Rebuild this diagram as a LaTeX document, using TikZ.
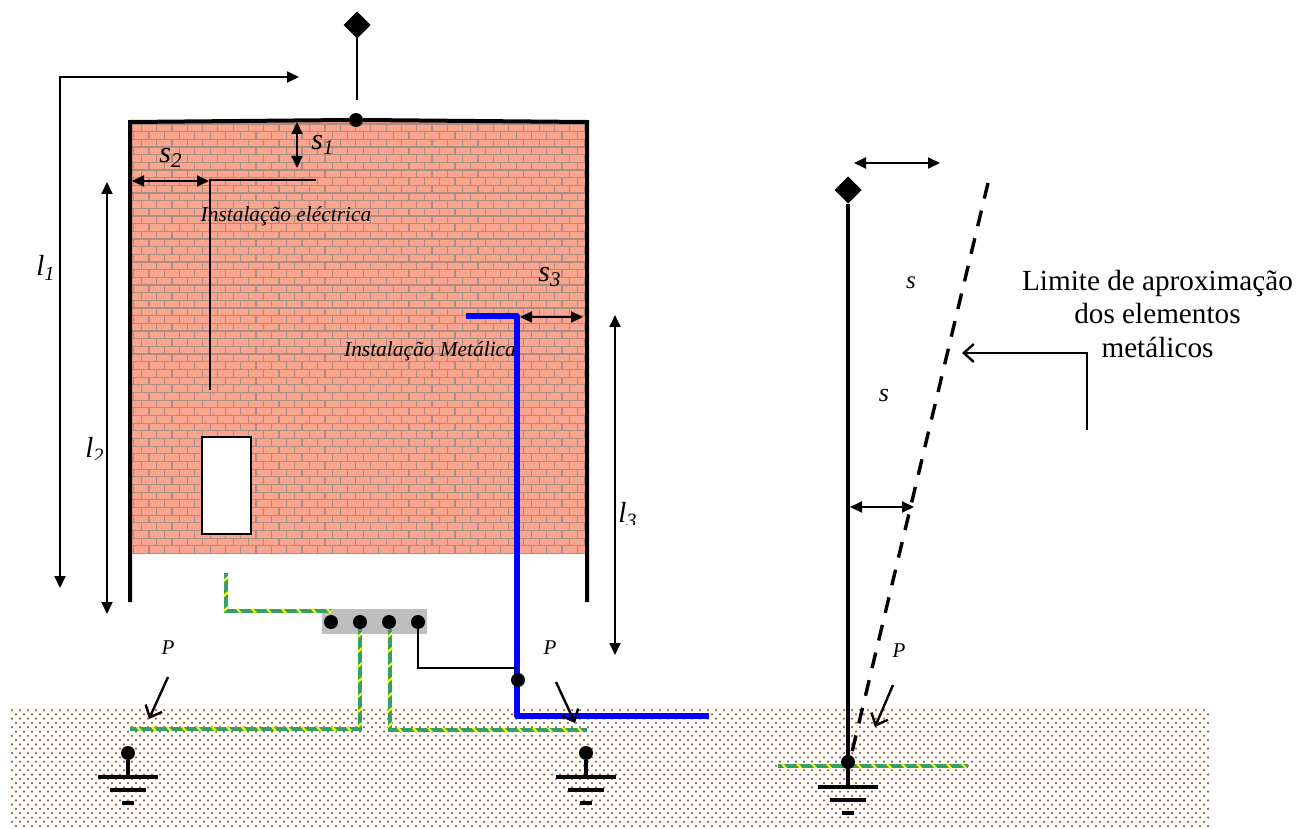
\documentclass[tikz,border=0pt]{standalone}
\usepackage{fontspec}
\setmainfont{Liberation Serif}
\usepackage{tikz}
\usetikzlibrary{positioning, shapes.geometric, arrows.meta, decorations.markings}
\definecolor{brickfill}{RGB}{250,165,142}
\definecolor{brickline}{RGB}{170,142,134}
\definecolor{soildot}{RGB}{165,88,52}
\definecolor{earthgreen}{RGB}{52,160,100}
\definecolor{earthyellow}{RGB}{250,245,20}
\definecolor{barbgray}{RGB}{190,190,190}

\begin{document}
\begin{tikzpicture}[
  x=0.5pt, y=-0.5pt,
  junction/.style={circle, fill=black, inner sep=0pt, outer sep=0pt, minimum size=7pt},
  topmark/.style={diamond, aspect=1, fill=black, inner sep=0pt, outer sep=0pt, minimum size=13.5pt},
  gndwide/.style={rectangle, fill=black, inner sep=0pt, outer sep=0pt, minimum height=2pt, minimum width=30pt},
  gndmid/.style={rectangle, fill=black, inner sep=0pt, outer sep=0pt, minimum height=2pt, minimum width=18pt},
  gndend/.style={rectangle, fill=black, inner sep=0pt, outer sep=0pt, minimum height=2pt, minimum width=6pt},
  wallline/.style={draw=black, line width=2pt},
  thinline/.style={draw=black, line width=1pt},
  blueline/.style={draw=blue, line width=2.7pt, line join=round},
  dimarrow/.style={draw=black, line width=1pt, {Triangle[length=6pt,width=5.5pt]}-{Triangle[length=6pt,width=5.5pt]}},
  openarrow/.style={draw=black, line width=1.2pt, -{Straight Barb[length=5pt,width=9pt]}},
  earthwire/.style={draw=earthgreen, line width=2.2pt, postaction={decorate},
    decoration={markings, mark=between positions 3pt and 1 step 7.5pt with
      {\draw[earthyellow, line width=1.1pt] (-2,-2.2) -- (2,2.2);}}},
  label/.style={font=\fontsize{10.7}{13}\selectfont\itshape, inner sep=0pt},
  smalllabel/.style={font=\fontsize{10.5}{12}\selectfont\itshape, inner sep=0pt},
  wide/.style={align=center, font=\fontsize{14.6}{16.8}\selectfont, inner sep=0pt}
]
    \useasboundingbox (0,0) rectangle (1298,829);

    % Soil
    \foreach \r in {0,...,27} {
      \pgfmathsetmacro{\ypos}{710+\r*4.3}
      \pgfmathsetmacro{\shift}{mod(\r,2)*4}
      \fill[soildot] \foreach \c in {0,...,149} {(12+\c*8+\shift,\ypos) circle (1.25)};
    }

    % Brick wall
    \fill[brickfill] (130,122) rectangle (587,553);
    \begin{scope}
      \clip (130,122) rectangle (587,553);
      \foreach \r in {0,...,56} {
        \pgfmathsetmacro{\ypos}{124+\r*7.67}
        \pgfmathsetmacro{\shift}{mod(\r,2)*7.65}
        \draw[brickline, line width=0.6pt] (130,\ypos) -- (587,\ypos);
        \draw[brickline, line width=0.6pt] \foreach \c in {0,...,30} {(126+\c*15.3+\shift,\ypos) -- ++(0,7.67)};
      }
    \end{scope}

    % Window
    \node[rectangle, draw=black, line width=1pt, fill=white, inner sep=0pt, minimum width=24.5pt, minimum height=48.5pt] (window) at (226.5,485.5) {};

    % Wall outline and roof point
    \node[junction] (roofdot) at (356,120) {};
    \coordinate (wallA) at (130,602);
    \coordinate (wallB) at (130,122);
    \coordinate (wallC) at (587,122);
    \coordinate (wallD) at (587,602);
    \draw[wallline] (wallA) -- (wallB) -- (roofdot.west);
    \draw[wallline] (roofdot.east) -- (wallC) -- (wallD);

    % Mast on the wall
    \node[topmark] (walltop) at (357,25) {};
    \coordinate (wallstem) at (357,100);
    \draw[thinline] (walltop) -- (wallstem);

    % Electrical installation
    \coordinate (elecA) at (316,180);
    \coordinate (elecB) at (210,180);
    \coordinate (elecC) at (210,390);
    \draw[thinline] (elecA) -- (elecB) -- (elecC);

    % Metal installation
    \coordinate (metalA) at (466,316);
    \coordinate (metalB) at (517,316);
    \coordinate (metalC) at (517,716);
    \coordinate (metalD) at (709,716);
    \draw[blueline] (metalA) -- (metalB) -- (metalC) -- (metalD);

    % Distance arrows
    \coordinate (loneA) at (299,77);
    \coordinate (loneB) at (60,77);
    \coordinate (loneC) at (60,588);
    \draw[dimarrow] (loneA) -- (loneB) -- (loneC);
    \coordinate (ltwoA) at (107,182);
    \coordinate (ltwoB) at (107,614);
    \draw[dimarrow] (ltwoA) -- (ltwoB);
    \coordinate (lthreeA) at (615,315);
    \coordinate (lthreeB) at (615,655);
    \draw[dimarrow] (lthreeA) -- (lthreeB);
    \coordinate (soneA) at (297,122);
    \coordinate (soneB) at (297,168);
    \draw[dimarrow] (soneA) -- (soneB);
    \coordinate (stwoA) at (132,181);
    \coordinate (stwoB) at (209,181);
    \draw[dimarrow] (stwoA) -- (stwoB);
    \coordinate (sthreeA) at (520,317);
    \coordinate (sthreeB) at (583,317);
    \draw[dimarrow] (sthreeA) -- (sthreeB);

    % Equipotential bar
    \node[rectangle, fill=barbgray, inner sep=0pt, minimum width=52.5pt, minimum height=12.5pt] (bar) at (374.5,621.5) {};
    \node[junction] (bar1) at (331,622) {};
    \node[junction, right=7.5pt of bar1] (bar2) {};
    \node[junction, right=7.5pt of bar2] (bar3) {};
    \node[junction, right=7.5pt of bar3] (bar4) {};

    % Earth wires
    \coordinate (wireA) at (226,573);
    \coordinate (wireB) at (226,611);
    \coordinate (wireC) at (331,611);
    \draw[earthwire] (wireA) -- (wireB) -- (wireC);
    \coordinate (wireD) at (360,629);
    \coordinate (wireE) at (360,729);
    \coordinate (wireF) at (130,729);
    \draw[earthwire] (wireD) -- (wireE) -- (wireF);
    \coordinate (wireG) at (390,629);
    \coordinate (wireH) at (390,730);
    \coordinate (wireI) at (587,730);
    \draw[earthwire] (wireG) -- (wireH) -- (wireI);

    % Bond to the metal installation
    \coordinate (bondA) at (418,668);
    \coordinate (bondB) at (517,668);
    \draw[thinline] (bar4) -- (bondA) -- (bondB);
    \node[junction] (metaldot) at (518,680) {};

    % Left earth electrode
    \node[junction] (gndA) at (128,753) {};
    \node[gndwide, below=7.5pt of gndA] (gndA1) {};
    \node[gndmid, below=4.5pt of gndA1] (gndA2) {};
    \node[gndend, below=4.5pt of gndA2] (gndA3) {};
    \draw[line width=1.6pt] (gndA) -- (gndA1);

    % Middle earth electrode
    \node[junction] (gndB) at (586,753) {};
    \node[gndwide, below=7.5pt of gndB] (gndB1) {};
    \node[gndmid, below=4.5pt of gndB1] (gndB2) {};
    \node[gndend, below=4.5pt of gndB2] (gndB3) {};
    \draw[line width=1.6pt] (gndB) -- (gndB1);

    % Free mast
    \coordinate (wireJ) at (778,766);
    \coordinate (wireK) at (968,766);
    \draw[earthwire] (wireJ) -- (wireK);
    \node[topmark] (masttop) at (848,190) {};
    \node[junction] (gndC) at (848,762) {};
    \node[gndwide, below=8pt of gndC] (gndC1) {};
    \node[gndmid, below=4.5pt of gndC1] (gndC2) {};
    \node[gndend, below=4.5pt of gndC2] (gndC3) {};
    \draw[line width=2pt] (masttop) -- (gndC1);

    % Approach limit
    \coordinate (limitA) at (988,183);
    \coordinate (limitB) at (852,752);
    \draw[line width=1.7pt, dash pattern=on 8pt off 6.2pt] (limitA) -- (limitB);
    \coordinate (stopA) at (854,163);
    \coordinate (stopB) at (940,163);
    \draw[dimarrow] (stopA) -- (stopB);
    \coordinate (stopC) at (850,507);
    \coordinate (stopD) at (914,507);
    \draw[dimarrow] (stopC) -- (stopD);
    \coordinate (pointA) at (1087,430);
    \coordinate (pointB) at (1087,353);
    \coordinate (pointC) at (962,353);
    \draw[openarrow] (pointA) -- (pointB) -- (pointC);

    % P arrows
    \coordinate (pA) at (168,677);
    \coordinate (pB) at (149,719);
    \draw[openarrow] (pA) -- (pB);
    \coordinate (pC) at (556,682);
    \coordinate (pD) at (575,723);
    \draw[openarrow] (pC) -- (pD);
    \coordinate (pE) at (893,685);
    \coordinate (pF) at (875,727);
    \draw[openarrow] (pE) -- (pF);

    % Labels
    \node[label] (sone) at (323,145) {\fontsize{15}{17}\selectfont s\textsubscript{1}};
    \node[label] (stwo) at (171,158) {\fontsize{15}{17}\selectfont s\textsubscript{2}};
    \node[label] (sthree) at (550,277) {\fontsize{15}{17}\selectfont s\textsubscript{3}};
    \node[label] (lone) at (46,268) {\fontsize{14.5}{16}\selectfont l\textsubscript{1}};
    \begin{scope}
      \clip (80,430) rectangle (110,459);
      \node[label] (ltwo) at (95,450) {\fontsize{14.5}{16}\selectfont l\textsubscript{2}};
    \end{scope}
    \begin{scope}
      \clip (610,495) rectangle (650,524);
      \node[label] (lthree) at (628,515) {\fontsize{14.5}{16}\selectfont l\textsubscript{3}};
    \end{scope}
    \node[label] (selec) at (911,283) {\fontsize{12.5}{15}\selectfont s};
    \node[label] (smetal) at (884,396) {\fontsize{13}{15}\selectfont s};
    \node[smalllabel] (pleft) at (168,648) {P};
    \node[smalllabel] (pmid) at (550,648) {P};
    \node[smalllabel] (pright) at (899,651) {P};
    \node[label] (instelec) at (286,216) {Instalação eléctrica};
    \node[label] (instmetal) at (430,351) {Instalação Metálica};
    \node[wide] (limit) at (1157.5,314) {Limite de aproximação\\dos elementos\\metálicos};

\end{tikzpicture}
\end{document}
